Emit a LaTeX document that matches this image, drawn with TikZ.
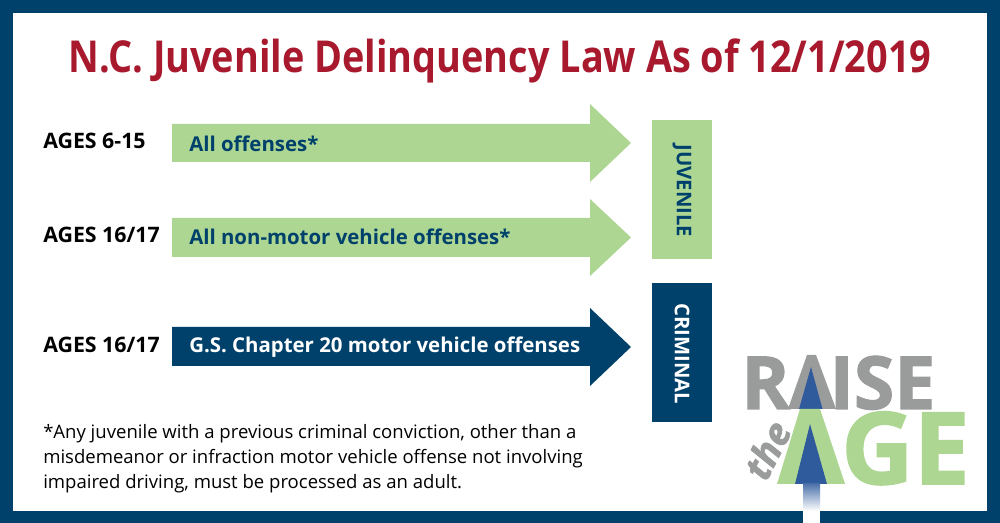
\documentclass[tikz,border=0pt]{standalone}
\usepackage{fontspec}
\setmainfont{Open Sans}
\newfontfamily\titlefont[FakeStretch=0.86]{Open Sans}
\newfontfamily\logofont[BoldFeatures={FakeBold=1.6},BoldItalicFeatures={FakeBold=1.6}]{Open Sans}
\usetikzlibrary{shadings}
\definecolor{navy}{HTML}{00416B}
\definecolor{leaf}{HTML}{AED693}
\definecolor{title}{HTML}{A8192E}
\definecolor{stone}{HTML}{9A9C9C}
\definecolor{logoblue}{HTML}{2F5A9C}
\tikzset{
  agelabel/.style={anchor=west,font=\fontsize{16}{18}\selectfont\bfseries,inner sep=0pt},
  arrowlabel/.style={anchor=west,font=\fontsize{15.3}{17}\selectfont\bfseries,inner sep=0pt},
  courtbox/.style={font=\fontsize{15.2}{17}\selectfont\bfseries,text=navy,inner sep=0pt}
}
\begin{document}
\begin{tikzpicture}[x=0.75pt,y=-0.75pt]
  \useasboundingbox (0,0) rectangle (1000,523);
  % frame
  \fill[navy] (0,0) rectangle (1000,523);
  \fill[white] (12.5,13) rectangle (987,511);
  \node[font=\titlefont\fontsize{33}{36}\selectfont\bfseries,text=title,inner sep=0pt] (heading) at (500,61) {N.C. Juvenile Delinquency Law As of 12/1/2019};
  % arrows
  \fill[leaf] (172,124) -- (590,124) -- (590,104) -- (631,143) -- (590,182) -- (590,162) -- (172,162) -- cycle;
  \fill[leaf] (172,218) -- (590,218) -- (590,199) -- (631,237.5) -- (590,276) -- (590,257) -- (172,257) -- cycle;
  \fill[navy] (172,327) -- (590,327) -- (590,308) -- (631,347) -- (590,386) -- (590,366) -- (172,366) -- cycle;
  \node[agelabel] (ageone) at (43,140.5) {AGES 6-15};
  \node[agelabel] (agetwo) at (43,234.5) {AGES 16/17};
  \node[agelabel] (agethree) at (43,344.5) {AGES 16/17};
  \node[arrowlabel,text=navy] (textone) at (189,144) {All offenses*};
  \node[arrowlabel,text=navy] (texttwo) at (189,237) {All non-motor vehicle offenses*};
  \node[arrowlabel,text=white] (textthree) at (189,347) {G.S. Chapter 20 motor vehicle offenses};
  % court boxes
  \fill[leaf] (652,120) rectangle (712,259);
  \node[courtbox,rotate=-90] (juvenile) at (682,191) {JUVENILE};
  \fill[navy] (652,283) rectangle (712,422);
  \node[courtbox,rotate=-90,text=white] (criminal) at (682,354) {CRIMINAL};
  % footnote
  \node[anchor=north west,align=left,inner sep=0pt,font=\fontsize{13.9}{18.75}\selectfont] (footnote) at (43,424) {*Any juvenile with a previous criminal conviction, other than a\\misdemeanor or infraction motor vehicle offense not involving\\impaired driving, must be processed as an adult.};
  % logo
  \node[anchor=base west,inner sep=0pt,text=stone,font=\logofont\fontsize{55}{55}\selectfont\bfseries] (raise) at (741,409) {R\hspace{30pt}ISE};
  \fill[stone] (788,409) -- (807,355) -- (816,355) -- (836,409) -- cycle;
  \fill[logoblue] (799,409) -- (811,367) -- (822.5,409) -- cycle;
  \fill[leaf] (777,484) -- (800,409) -- (820,409) -- (845,484) -- cycle;
  \fill[logoblue] (795,484) -- (810,424) -- (827,484) -- cycle;
  \node[anchor=base west,inner sep=0pt,text=leaf,font=\logofont\fontsize{75}{75}\selectfont\bfseries] (age) at (841,484) {GE};
  \shade[top color=logoblue!85,bottom color=white] (803,484) rectangle (820,511);
  \fill[white] (803,511) rectangle (820,523);
  \node[rotate=63,text=stone,inner sep=0pt,font=\logofont\fontsize{28}{28}\selectfont\bfseries\itshape] (the) at (767,450) {the};
\end{tikzpicture}
\end{document}
